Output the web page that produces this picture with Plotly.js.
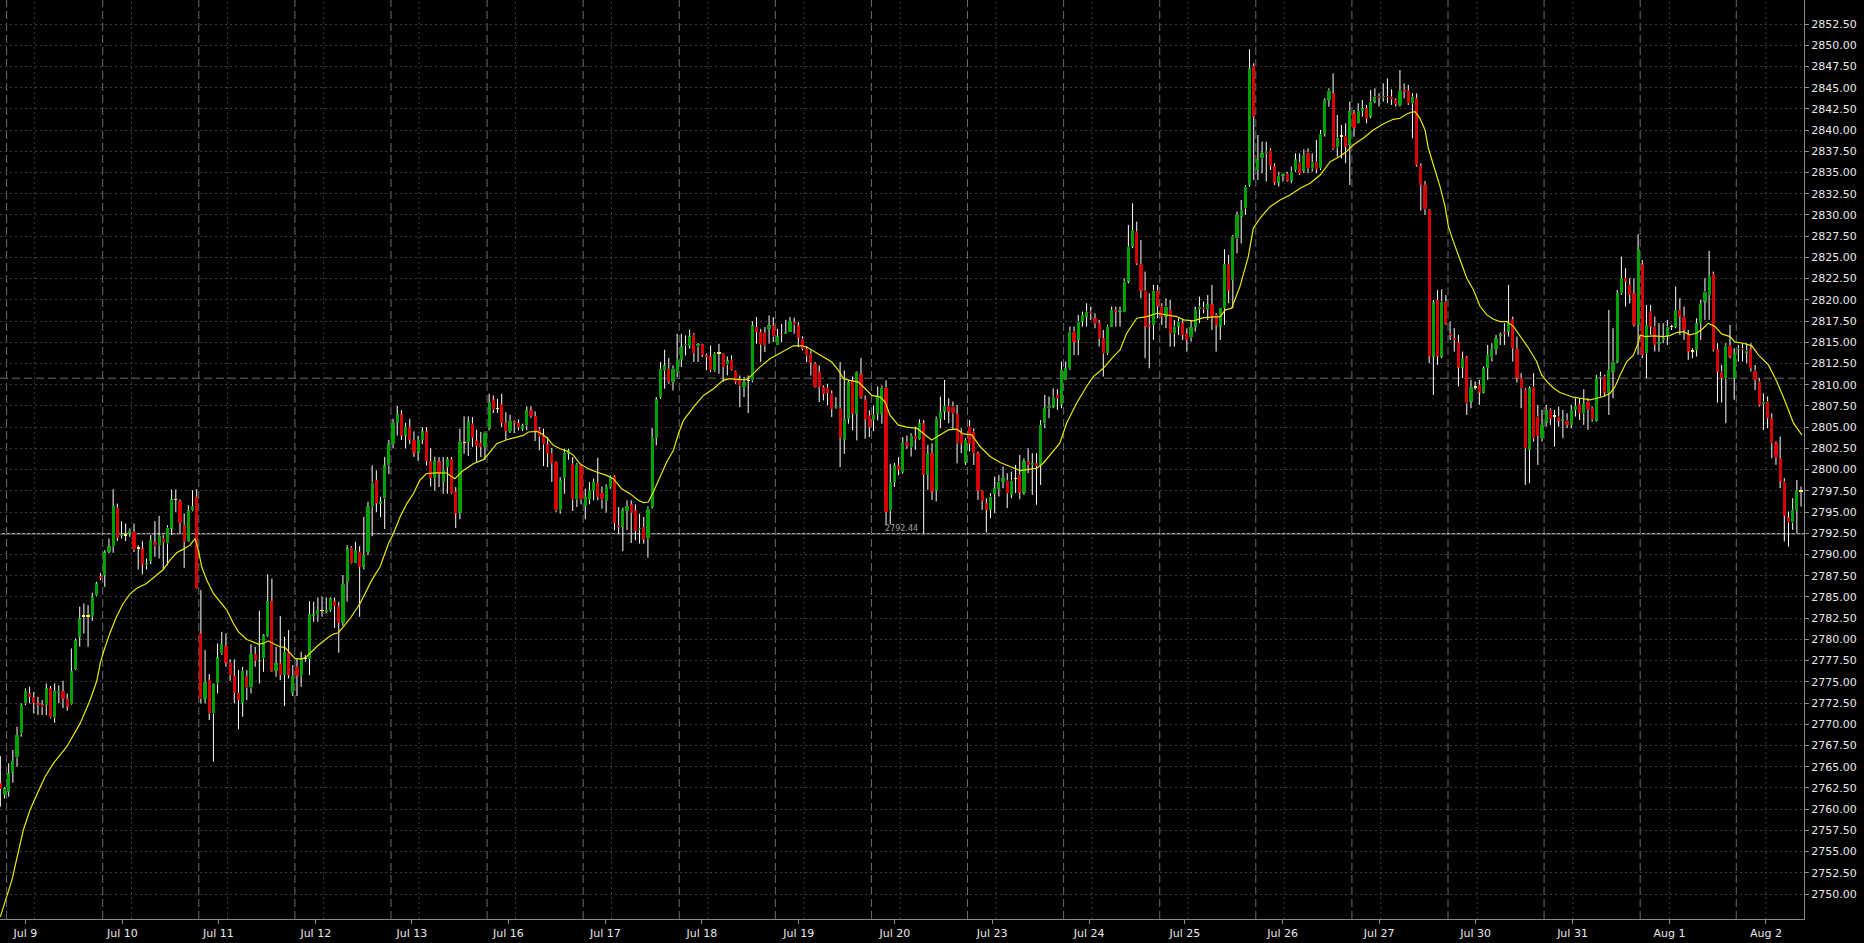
<!DOCTYPE html>
<html><head><meta charset="utf-8">
<script src="https://cdn.plot.ly/plotly-3.0.1.min.js"></script>
<style>html,body{margin:0;padding:0;background:#000;overflow:hidden}#chart{width:1864px;height:943px}</style>
</head><body><div id="chart"></div>
<script>
// ---- hourly bars (one per hour, 23 per session) ----
const opens = [
2763.04,2761.66,2762.05,2764.29,2766.10,2768.92,2772.46,2773.63,2773.16,2772.46,
2772.34,2772.26,2774.22,2770.81,2773.71,2773.91,2772.97,2772.34,2776.50,2780.30,
2782.66,2782.66,2782.74,2785.21,2787.45,2787.57,2790.31,2790.98,2795.50,2792.20,
2792.20,2792.47,2792.67,2790.67,2790.71,2788.74,2789.25,2791.45,2791.10,2791.88,
2791.30,2793.06,2796.40,2796.28,2793.45,2791.57,2795.22,2796.79,2780.70,2773.00,
2775.20,2771.28,2774.81,2778.34,2779.21,2777.24,2775.67,2773.71,2772.53,2775.67,
2774.34,2778.27,2777.36,2777.75,2780.42,2784.50,2776.30,2777.17,2775.79,2778.42,
2773.71,2776.77,2775.79,2777.64,2777.68,2782.78,2782.97,2783.33,2783.25,2783.45,
2784.50,2783.92,2781.95,2786.78,2790.79,2789.02,2790.31,2788.55,2790.31,2795.69,
2798.75,2796.00,2796.60,2800.50,2803.00,2805.50,2806.50,2804.00,2805.00,2803.50,
2802.00,2803.50,2804.50,2801.00,2799.00,2800.97,2798.54,2800.30,2801.21,2797.44,
2794.92,2803.13,2803.25,2805.41,2803.44,2803.13,2802.66,2804.82,2808.27,2807.13,
2807.68,2805.49,2804.54,2805.68,2805.49,2804.82,2805.21,2806.98,2806.31,2804.70,
2803.92,2802.97,2801.87,2800.89,2795.20,2799.01,2801.87,2800.70,2796.50,2800.50,
2795.71,2796.50,2797.48,2798.42,2797.24,2796.30,2797.95,2799.21,2793.44,2793.24,
2795.12,2795.91,2795.20,2792.97,2793.24,2791.91,2795.59,2803.72,2808.55,2811.69,
2811.88,2810.31,2811.49,2812.94,2814.63,2814.55,2815.89,2814.51,2814.75,2813.45,
2813.34,2811.69,2813.65,2813.65,2812.39,2812.94,2811.61,2810.59,2809.72,2810.43,
2810.51,2816.79,2816.20,2816.12,2816.59,2816.99,2814.63,2815.93,2816.00,2816.20,
2817.38,2816.99,2815.42,2814.24,2813.65,2812.47,2811.49,2809.72,2809.65,2808.94,
2807.37,2807.17,2803.52,2805.99,2810.51,2806.58,2811.22,2808.27,2806.39,2805.80,
2806.58,2806.58,2809.65,2795.20,2798.54,2800.50,2799.71,2803.17,2802.63,2803.97,
2803.58,2805.46,2799.38,2801.93,2797.53,2805.97,2806.84,2807.51,2807.43,2806.56,
2804.28,2800.83,2805.07,2804.48,2801.93,2797.53,2796.04,2795.26,2797.14,2797.73,
2798.59,2798.71,2797.02,2798.91,2799.38,2797.30,2800.96,2800.55,2800.75,2800.55,
2805.46,2807.23,2807.43,2808.80,2807.62,2810.56,2811.94,2816.26,2815.28,2817.44,
2818.03,2818.62,2817.83,2817.25,2815.48,2813.71,2816.85,2818.81,2818.62,2818.62,
2822.15,2826.27,2828.04,2824.23,2821.09,2817.05,2817.05,2821.09,2819.21,2818.03,
2818.81,2816.07,2816.85,2817.25,2816.07,2815.58,2816.85,2818.89,2819.09,2818.89,
2819.48,2818.22,2816.85,2819.01,2824.23,2822.35,2827.25,2829.80,2830.79,2833.54,
2847.55,2835.30,2836.68,2837.27,2837.58,2835.77,2833.81,2834.63,2834.83,2834.04,
2835.30,2836.17,2835.23,2837.34,2835.50,2836.29,2835.50,2839.54,2843.55,2844.33,
2837.97,2839.23,2839.31,2838.25,2841.98,2840.88,2842.26,2842.57,2841.59,2843.35,
2844.02,2843.86,2844.02,2843.94,2843.55,2842.96,2844.73,2844.65,2843.16,2843.75,
2835.78,2833.54,2830.59,2813.32,2819.99,2813.32,2819.80,2815.99,2815.48,2815.01,
2812.02,2813.24,2808.02,2809.67,2809.98,2809.08,2811.95,2813.24,2814.22,2815.79,
2816.19,2816.26,2817.72,2814.22,2810.77,2809.39,2802.33,2809.79,2806.25,2803.70,
2805.54,2807.04,2806.25,2806.25,2805.78,2805.78,2805.27,2807.04,2807.74,2806.64,
2808.02,2807.23,2805.78,2810.77,2810.96,2809.00,2811.55,2812.73,2820.78,2822.55,
2821.76,2820.78,2817.05,2824.19,2813.71,2818.62,2816.85,2814.81,2815.28,2815.79,
2816.77,2816.85,2818.82,2818.03,2815.87,2813.91,2814.10,2817.25,2819.80,2820.58,
2823.06,2814.18,2811.55,2810.77,2814.61,2810.77,2814.10,2814.26,2813.79,2814.18,
2811.67,2810.37,2807.74,2808.02,2806.06,2803.11,2801.34,2798.60,2794.36,2793.77,
2795.26,2797.42];
const highs = [
2766.25,2762.60,2765.39,2766.96,2769.71,2772.46,2774.22,2774.42,2773.80,2773.24,
2772.85,2774.81,2774.50,2774.81,2774.60,2775.12,2773.63,2778.93,2780.11,2783.84,
2784.23,2784.03,2785.49,2786.78,2787.80,2790.51,2791.88,2797.69,2796.00,2793.92,
2793.65,2793.06,2793.65,2791.10,2791.61,2789.53,2792.28,2793.92,2794.55,2792.28,
2793.45,2797.65,2797.65,2796.48,2794.83,2795.81,2797.58,2797.69,2785.80,2778.74,
2775.91,2774.81,2779.52,2780.89,2780.70,2777.64,2777.64,2776.38,2776.77,2776.38,
2779.44,2779.13,2783.37,2780.62,2787.65,2787.17,2779.13,2782.74,2780.30,2781.09,
2776.97,2777.75,2778.54,2778.15,2784.50,2784.43,2784.94,2785.02,2784.94,2784.94,
2784.94,2784.43,2787.57,2791.10,2790.98,2791.49,2790.98,2794.44,2796.20,2800.50,
2799.90,2796.80,2801.50,2803.50,2806.00,2807.50,2807.00,2805.50,2806.00,2804.50,
2804.00,2805.00,2805.00,2802.50,2801.50,2801.48,2801.48,2801.48,2801.48,2797.95,
2804.82,2806.27,2806.27,2806.19,2804.70,2804.43,2804.50,2808.94,2808.74,2808.35,
2808.94,2806.78,2806.47,2805.80,2805.92,2805.41,2807.45,2807.45,2806.86,2805.01,
2804.82,2803.84,2802.58,2800.97,2799.13,2802.46,2802.46,2801.48,2800.78,2800.70,
2797.75,2798.54,2798.93,2801.40,2798.03,2798.26,2799.32,2799.32,2795.59,2795.52,
2796.38,2796.38,2795.91,2794.81,2794.42,2795.67,2804.90,2808.55,2812.67,2814.12,
2813.18,2812.28,2816.00,2816.00,2815.81,2816.48,2816.08,2814.91,2814.83,2813.65,
2814.63,2813.85,2814.83,2813.73,2813.34,2813.45,2811.69,2811.10,2810.90,2811.10,
2817.50,2817.97,2816.59,2816.79,2818.16,2817.97,2816.59,2817.18,2817.65,2817.97,
2817.89,2817.38,2815.69,2814.51,2814.04,2812.67,2812.28,2809.92,2810.12,2809.33,
2808.55,2812.67,2811.69,2810.51,2810.98,2811.57,2813.18,2808.74,2806.98,2807.57,
2809.80,2809.92,2810.51,2800.70,2800.78,2801.48,2803.84,2804.03,2804.28,2805.07,
2805.93,2805.85,2802.91,2803.11,2806.25,2808.60,2810.56,2808.41,2808.02,2807.62,
2804.88,2803.70,2805.85,2804.88,2802.12,2797.61,2796.63,2797.22,2799.18,2799.38,
2800.36,2799.57,2799.77,2800.55,2801.73,2801.34,2802.52,2801.93,2801.93,2805.85,
2808.80,2808.60,2809.58,2809.46,2812.72,2812.72,2816.85,2816.85,2818.22,2818.62,
2819.60,2819.21,2818.42,2817.64,2816.46,2817.05,2819.21,2819.21,2819.21,2822.54,
2828.83,2831.38,2829.22,2827.06,2823.33,2820.77,2821.75,2821.75,2819.60,2820.18,
2819.99,2817.64,2817.83,2817.64,2816.65,2817.64,2819.21,2820.38,2819.79,2820.57,
2821.75,2818.42,2819.01,2825.96,2825.29,2827.64,2830.40,2831.77,2833.54,2849.52,
2847.87,2839.42,2838.64,2838.64,2837.85,2836.09,2835.10,2834.91,2835.10,2835.69,
2837.27,2837.27,2837.73,2837.85,2837.27,2838.84,2840.01,2843.74,2844.92,2846.69,
2841.78,2840.60,2840.80,2843.35,2842.37,2843.16,2843.55,2842.96,2844.73,2844.92,
2844.34,2845.51,2846.10,2844.81,2843.75,2847.08,2845.51,2845.32,2844.34,2844.34,
2836.09,2834.01,2830.67,2819.99,2821.17,2821.25,2820.58,2817.44,2816.66,2815.87,
2813.91,2813.40,2810.57,2810.37,2810.57,2812.14,2814.69,2814.89,2815.87,2816.15,
2817.25,2821.76,2818.03,2815.67,2811.36,2809.59,2809.79,2811.36,2807.63,2807.04,
2807.63,2807.23,2807.04,2807.43,2807.04,2806.64,2807.63,2808.41,2808.41,2809.47,
2808.41,2807.43,2811.16,2811.55,2811.16,2818.82,2816.66,2821.17,2825.10,2823.72,
2822.55,2822.55,2827.73,2824.70,2819.40,2819.40,2818.03,2817.25,2817.25,2817.64,
2817.05,2821.57,2820.19,2819.21,2816.46,2814.30,2817.83,2819.99,2822.55,2825.77,
2823.33,2814.89,2812.34,2814.89,2817.05,2814.30,2814.69,2814.89,2814.89,2814.89,
2812.34,2810.77,2808.99,2808.61,2806.64,2803.31,2803.90,2798.99,2795.06,2796.63,
2798.79,2798.01];
const lows = [
2760.29,2761.27,2761.47,2763.11,2765.00,2768.53,2772.26,2772.46,2771.28,2771.08,
2771.08,2771.08,2770.69,2770.18,2772.46,2771.91,2771.59,2772.26,2776.38,2779.13,
2780.70,2779.13,2782.19,2785.09,2786.98,2786.19,2790.12,2790.20,2791.57,2791.88,
2791.57,2792.08,2790.31,2788.23,2787.65,2788.23,2788.86,2789.73,2789.53,2788.23,
2788.74,2792.28,2795.02,2792.47,2788.43,2791.49,2795.10,2785.92,2772.46,2772.46,
2770.49,2765.59,2773.63,2778.15,2776.77,2775.12,2772.46,2769.40,2770.89,2772.85,
2773.63,2776.77,2774.81,2776.18,2780.30,2776.18,2775.60,2775.20,2772.14,2775.40,
2773.32,2773.32,2774.42,2777.36,2775.79,2782.07,2782.07,2782.66,2783.05,2783.25,
2781.36,2778.42,2781.56,2784.43,2788.86,2789.00,2782.66,2788.23,2789.92,2792.15,
2795.00,2794.40,2793.00,2799.50,2802.50,2804.00,2803.50,2802.50,2803.00,2801.50,
2801.00,2803.00,2800.50,2798.00,2797.50,2797.95,2797.16,2797.16,2797.16,2793.12,
2794.14,2801.87,2801.60,2802.66,2800.89,2801.48,2801.17,2804.62,2806.66,2806.66,
2805.01,2803.44,2804.31,2804.31,2804.62,2804.54,2804.62,2806.11,2803.37,2802.27,
2800.42,2800.30,2798.54,2795.01,2794.81,2797.16,2801.17,2795.12,2795.59,2795.91,
2794.14,2795.91,2796.38,2796.38,2795.40,2794.93,2797.75,2792.85,2792.45,2790.41,
2792.85,2791.36,2791.67,2791.28,2791.28,2789.63,2795.40,2802.86,2808.35,2809.53,
2810.12,2809.33,2810.90,2812.08,2813.45,2814.24,2812.67,2812.67,2813.26,2811.69,
2811.49,2811.49,2811.29,2810.31,2811.10,2811.69,2810.12,2807.37,2808.55,2806.66,
2810.31,2814.83,2812.67,2813.85,2814.83,2815.02,2814.63,2815.02,2816.00,2816.20,
2816.00,2814.43,2814.04,2812.67,2811.10,2809.65,2807.96,2808.15,2807.57,2806.19,
2807.17,2800.30,2801.87,2805.41,2804.62,2803.44,2808.35,2803.64,2803.84,2804.54,
2805.80,2805.41,2793.44,2793.56,2797.95,2799.32,2799.52,2802.46,2801.54,2802.32,
2803.50,2792.44,2797.61,2796.43,2796.24,2804.88,2805.85,2805.46,2804.68,2800.75,
2801.93,2800.55,2802.12,2800.55,2796.43,2795.26,2792.58,2794.28,2794.87,2796.83,
2797.81,2795.46,2796.63,2797.22,2796.51,2797.02,2799.57,2797.02,2795.85,2798.20,
2804.88,2806.05,2807.23,2807.03,2807.23,2810.56,2811.74,2813.51,2813.51,2816.85,
2816.85,2817.64,2816.65,2814.50,2810.96,2813.51,2816.85,2816.85,2816.85,2818.62,
2821.95,2826.08,2824.11,2820.18,2813.12,2811.94,2815.28,2817.83,2817.05,2816.65,
2814.50,2814.50,2815.87,2815.28,2813.90,2815.08,2816.26,2817.25,2818.42,2817.64,
2816.46,2813.90,2815.28,2817.05,2819.60,2819.01,2825.49,2826.66,2830.00,2833.34,
2834.13,2834.13,2834.91,2833.93,2835.30,2833.54,2833.34,2833.93,2833.93,2833.73,
2835.10,2834.71,2834.91,2834.91,2835.10,2834.91,2835.30,2839.23,2842.76,2837.65,
2836.87,2836.68,2836.09,2833.54,2839.23,2840.80,2841.59,2840.80,2841.39,2843.16,
2842.77,2843.35,2843.16,2842.96,2842.77,2842.77,2843.75,2842.96,2839.04,2835.70,
2830.52,2830.01,2812.53,2808.80,2812.34,2813.12,2817.05,2815.28,2813.91,2809.79,
2810.77,2806.45,2807.23,2809.39,2807.63,2809.00,2810.57,2812.73,2813.52,2814.69,
2814.69,2815.67,2812.73,2810.26,2807.23,2798.20,2798.40,2803.31,2800.56,2803.31,
2805.07,2805.27,2802.72,2805.07,2803.70,2804.88,2804.88,2806.25,2805.86,2805.27,
2804.68,2805.66,2805.66,2808.61,2808.61,2806.45,2808.41,2812.53,2820.58,2819.21,
2819.60,2816.85,2813.52,2813.12,2810.77,2815.87,2813.91,2813.91,2814.89,2814.69,
2816.46,2816.66,2815.87,2815.28,2812.93,2813.12,2813.32,2815.28,2817.64,2817.64,
2813.91,2807.90,2807.90,2805.47,2813.12,2808.22,2812.73,2812.73,2812.53,2811.55,
2809.39,2807.43,2804.68,2804.88,2801.34,2800.56,2797.81,2791.53,2790.94,2792.90,
2792.51,2795.65];
const closes = [
2762.37,2762.45,2764.21,2765.66,2768.73,2772.26,2773.95,2773.24,2772.53,2772.26,
2772.10,2774.22,2770.81,2773.91,2773.91,2773.00,2772.06,2776.26,2779.91,2782.46,
2782.66,2782.66,2784.98,2786.59,2787.25,2790.24,2790.98,2795.69,2791.96,2792.35,
2792.20,2792.75,2790.59,2790.67,2788.82,2788.94,2791.69,2791.06,2792.20,2791.45,
2793.18,2796.48,2796.40,2793.73,2791.49,2795.22,2795.69,2786.00,2773.04,2774.97,
2771.28,2774.73,2777.87,2779.44,2777.24,2775.79,2773.71,2772.85,2776.30,2774.34,
2778.27,2777.48,2777.44,2780.50,2784.50,2776.30,2777.17,2775.79,2778.54,2775.79,
2775.71,2775.71,2777.75,2777.64,2782.97,2782.94,2783.45,2783.33,2783.45,2784.82,
2783.92,2781.95,2786.51,2790.71,2788.94,2790.51,2788.55,2789.92,2795.69,2798.48,
2796.00,2796.28,2800.50,2803.00,2805.50,2806.50,2804.00,2805.00,2803.50,2802.00,
2803.50,2804.50,2801.00,2799.00,2801.00,2799.51,2799.92,2801.21,2797.24,2794.81,
2803.25,2803.13,2805.68,2803.76,2802.78,2802.66,2804.35,2807.96,2807.10,2807.13,
2805.49,2804.54,2805.72,2805.49,2805.01,2805.21,2806.98,2806.31,2804.54,2803.92,
2802.97,2801.87,2800.77,2795.20,2798.73,2801.99,2802.27,2796.50,2800.58,2796.50,
2796.77,2797.56,2798.54,2796.77,2796.50,2797.95,2799.01,2793.71,2793.24,2795.20,
2795.71,2794.93,2792.77,2793.12,2791.75,2795.40,2803.72,2808.27,2811.88,2812.28,
2810.31,2811.88,2812.94,2814.51,2814.83,2815.69,2813.73,2814.75,2813.53,2813.26,
2811.69,2813.65,2813.65,2812.08,2812.86,2811.77,2810.31,2809.92,2810.31,2810.43,
2816.99,2816.20,2814.75,2814.63,2816.99,2815.69,2815.69,2815.85,2816.20,2817.50,
2817.10,2815.53,2814.24,2813.45,2812.55,2809.72,2809.72,2808.94,2809.02,2807.13,
2807.49,2803.76,2805.92,2810.31,2806.58,2811.49,2808.55,2805.88,2805.01,2806.47,
2808.74,2809.65,2795.01,2798.54,2800.50,2799.99,2803.13,2802.78,2803.97,2803.58,
2805.46,2799.38,2801.93,2797.42,2805.97,2806.76,2807.51,2806.84,2806.64,2803.11,
2803.03,2803.50,2803.03,2801.93,2797.53,2796.32,2795.26,2796.83,2797.81,2798.59,
2798.98,2797.22,2798.71,2798.91,2797.30,2800.96,2800.55,2800.75,2800.44,2805.26,
2807.23,2807.51,2808.60,2808.41,2811.74,2811.94,2816.26,2815.08,2817.44,2818.22,
2818.62,2818.42,2817.25,2815.48,2813.71,2816.85,2818.81,2818.62,2818.81,2822.15,
2826.27,2828.24,2824.31,2821.09,2816.85,2816.85,2821.09,2819.21,2818.03,2819.21,
2816.07,2816.85,2817.44,2815.87,2815.28,2816.77,2818.81,2819.21,2818.89,2819.48,
2818.03,2817.05,2819.01,2824.23,2821.09,2827.45,2830.00,2830.59,2833.34,2847.28,
2841.58,2836.56,2837.27,2837.46,2835.77,2833.81,2834.63,2834.83,2834.04,2835.10,
2836.56,2834.91,2837.07,2835.50,2836.17,2835.38,2839.54,2843.55,2844.65,2837.85,
2839.11,2839.23,2838.05,2842.26,2840.29,2842.26,2842.57,2841.31,2843.35,2843.94,
2843.86,2844.02,2843.86,2843.63,2843.08,2844.61,2844.53,2843.16,2843.94,2835.89,
2833.54,2830.67,2813.32,2819.72,2813.32,2819.80,2817.17,2815.79,2815.28,2812.02,
2813.04,2807.82,2809.71,2809.67,2809.08,2811.95,2813.52,2814.22,2815.48,2815.95,
2816.03,2817.25,2814.30,2810.77,2809.59,2802.52,2809.59,2803.70,2803.98,2805.27,
2807.04,2805.98,2806.25,2805.78,2805.94,2805.27,2807.04,2807.51,2806.64,2807.82,
2807.12,2805.94,2810.77,2810.96,2809.08,2811.75,2812.73,2820.78,2822.55,2822.15,
2820.58,2817.05,2825.96,2813.52,2817.05,2816.85,2814.69,2815.01,2815.48,2816.85,
2816.77,2818.82,2818.03,2816.46,2813.91,2813.91,2817.25,2819.52,2820.98,2822.82,
2814.10,2811.55,2810.77,2814.61,2813.32,2813.71,2814.26,2814.10,2814.03,2811.95,
2810.57,2807.63,2808.02,2806.06,2803.11,2801.46,2798.60,2794.55,2793.77,2795.26,
2797.50,2797.42];

const maBars = [0,2.8,5.5,7.1,8.7,10.7,12.7,15.9,19.1,21.5,23.1,23.9,24.7,26.2,27.8,29.4,31,32.6,35,37.4,39,40.6,42.2,43.8,45.4,46.6,47.4,48.2,49.4,51,52.6,54.2,55.8,57,59,60.6,61.8,63,64.1,65.3,66.9,68.1,69.3,70.5,72.1,73.3,75.7,78.1,79.7,80.9,82.1,83.7,86.1,87.7,88.9,90.9,92.9,94.1,95.7,97.3,98.9,100.4,102,104.4,106.8,108.8,110.8,113.2,115.6,117.2,118.8,121.2,123.6,125.2,126.4,128.4,129.6,130.8,132.4,134,135.6,137.2,138.7,140.7,142.7,145.1,146.7,148.7,150.7,152.7,153.9,155.1,156.3,157.9,159.5,161.1,162.3,163.5,165.9,168.3,170.7,173,174.6,176.2,178.6,179.8,181.8,184.2,186.6,188.2,189.8,191.8,193,195,197,199,200.6,201.8,203.4,205.4,207,208.6,210.6,211.8,212.9,214.9,216.9,219.3,220.9,222.9,224.9,226.9,228.9,230.5,232.5,234.5,236.9,239.3,241.7,244.1,246.5,248.1,249.6,252,253.6,255.2,257.6,260,261.6,264,266.4,268,269.6,272,274.4,276.8,279.2,281.6,283.2,285.6,288,290.4,292,293.2,294.7,296.7,298.7,299.9,301.5,303.9,306.3,308.7,311.1,313.5,315.9,318.3,320.6,322.2,323.8,326.2,328.6,331,333.4,335,336.6,337.8,338.6,339.8,341,341.8,343,344.6,345.8,346.6,347.8,349.4,351,352.6,354.2,355.8,357.4,359,360.6,362.2,363.8,365.8,367.7,368.9,370.2,371.8,373.3,374.9,376.5,378.1,380.5,382.1,383.7,385.3,386.5,387.7,389.3,390.9,392,392.5,393.7,395.7,398.1,399.6,401.2,402.8,404.4,406,407.6,408.8,410.4,412,414,415.2,417.2,419.2,420.8,423.2,425.2,427.2,429.2,431.2];
const maValues = [2747.3,2751.7,2757.54,2759.9,2761.66,2763.82,2765.39,2767.35,2770.1,2772.85,2775.12,2777.17,2778.54,2780.7,2782.66,2784.23,2785.33,2786.0,2786.58,2787.56,2788.23,2789.33,2790.2,2790.63,2791.1,2791.88,2790.51,2788.55,2786.98,2785.41,2784.43,2783.45,2781.87,2780.89,2779.99,2779.72,2779.44,2779.52,2779.83,2779.52,2779.13,2779.05,2778.42,2777.75,2777.68,2777.95,2779.13,2780.11,2780.62,2780.78,2781.48,2782.46,2784.23,2785.8,2786.98,2788.55,2791.3,2792.47,2794.44,2796.0,2797.18,2798.75,2799.54,2799.62,2799.6,2798.93,2799.91,2800.7,2801.17,2802.07,2803.05,2803.52,2803.84,2804.03,2804.43,2804.5,2804.23,2803.76,2802.86,2802.46,2802.19,2801.68,2800.7,2800.11,2799.72,2799.32,2798.93,2797.75,2797.17,2796.38,2796.11,2796.18,2797.36,2799.13,2800.89,2802.27,2804.23,2805.8,2807.37,2808.74,2809.53,2810.51,2810.71,2810.63,2810.59,2811.1,2812.08,2813.06,2813.73,2814.12,2814.59,2814.59,2814.44,2813.85,2813.26,2812.67,2811.69,2810.71,2810.51,2810.31,2809.53,2808.74,2808.55,2807.96,2806.45,2805.27,2805.0,2804.88,2804.29,2803.5,2804.09,2804.68,2804.76,2804.21,2804.09,2802.72,2801.54,2800.83,2800.36,2799.89,2800.05,2800.16,2800.75,2802.12,2803.11,2805.46,2807.82,2809.79,2810.96,2811.94,2813.32,2814.1,2816.07,2817.83,2818.03,2818.42,2818.22,2818.03,2817.64,2817.52,2817.91,2818.03,2818.03,2818.82,2819.01,2821.56,2825.1,2828.43,2829.61,2830.98,2831.77,2832.36,2833.14,2833.73,2834.71,2836.28,2836.88,2837.47,2838.25,2839.04,2840.02,2840.72,2841.27,2841.39,2841.9,2842.1,2842.18,2841.39,2840.02,2837.86,2835.89,2833.34,2830.99,2828.63,2826.86,2824.7,2822.55,2821.17,2819.21,2818.23,2817.72,2817.44,2817.44,2816.85,2815.67,2814.3,2812.73,2811.16,2810.37,2809.59,2809.08,2808.8,2808.53,2808.41,2808.22,2808.41,2808.61,2809.0,2809.79,2811.16,2812.73,2813.52,2814.89,2815.87,2815.67,2815.75,2815.67,2815.79,2816.15,2816.26,2815.87,2816.07,2816.66,2817.25,2816.85,2815.99,2815.67,2815.01,2814.89,2814.58,2813.52,2812.34,2810.37,2808.02,2805.47,2804.09];

// ---- axis labels and session structure ----
const dayLabels = ['Jul 9','Jul 10','Jul 11','Jul 12','Jul 13','Jul 16','Jul 17','Jul 18','Jul 19','Jul 20','Jul 23','Jul 24','Jul 25','Jul 26','Jul 27','Jul 30','Jul 31','Aug 1','Aug 2'];
const labelBars = [6.0,29.2,52.2,75.5,98.5,121.6,144.8,167.9,191.1,214.1,237.4,260.6,283.5,306.9,330.0,353.1,376.3,399.5,422.6];
const gridBars = [8.15,31.4,54.4,77.4,100.2,123.3,146.3,169.4,192.4,215.4,238.3,261.3,284.3,307.3,330.4,353.5,376.4,399.5,422.6];
const sessionStarts = [2,25,48,71,94,117,140,163,186,209,232,255,278,301,324,347,370,393,416];
const priceTicks = [2750,2752.5,2755,2757.5,2760,2762.5,2765,2767.5,2770,2772.5,2775,2777.5,2780,2782.5,2785,2787.5,2790,2792.5,2795,2797.5,2800,2802.5,2805,2807.5,2810,2812.5,2815,2817.5,2820,2822.5,2825,2827.5,2830,2832.5,2835,2837.5,2840,2842.5,2845,2847.5,2850,2852.5];
const markedLow = 2792.44;
const markedLowBar = 215.8;
const dashedLevel = 2810.77;

// ---- build traces ----
const n = opens.length;
const idx = opens.map((_, i) => i);
const bodyTop = idx.map(i => Math.max(opens[i], closes[i]));
const bodyBase = idx.map(i => Math.min(opens[i], closes[i]));
// wicks: upper (high -> body top) and lower (body bottom -> low), never crossing the body
const wx = [], wy = [];
for (let i = 0; i < n; i++) {
  if (highs[i] > bodyTop[i]) { wx.push(i, i, null); wy.push(bodyTop[i], highs[i], null); }
  if (lows[i] < bodyBase[i]) { wx.push(i, i, null); wy.push(lows[i], bodyBase[i], null); }
}
const bodyLen = idx.map(i => Math.max(bodyTop[i] - bodyBase[i], 0.16));
const bodyColor = idx.map(i => closes[i] > opens[i] ? '#00a000' : (closes[i] < opens[i] ? '#d80000' : '#ffff00'));

const traces = [
  {type:'bar', x:idx, base:bodyBase, y:bodyLen, width:0.76, marker:{color:bodyColor, line:{width:0}}, hoverinfo:'skip'},
  {type:'scatter', mode:'lines', x:wx, y:wy, line:{color:'#ffffff', width:1}, hoverinfo:'skip', connectgaps:false},
  {type:'scatter', mode:'lines', x:maBars, y:maValues, line:{color:'#e8e800', width:1.2}, hoverinfo:'skip'}
];

const shapes = [];
gridBars.forEach(b => shapes.push({type:'line', xref:'x', yref:'paper', x0:b, x1:b, y0:0, y1:1, layer:'below', line:{color:'#3c3c3c', width:1, dash:'2px,3px'}}));
sessionStarts.forEach(s => shapes.push({type:'line', xref:'x', yref:'paper', x0:s-0.5, x1:s-0.5, y0:0, y1:1, layer:'below', line:{color:'#6a6a6a', width:1, dash:'8px,4px'}}));
shapes.push({type:'line', xref:'paper', yref:'y', x0:0, x1:1, y0:dashedLevel, y1:dashedLevel, layer:'below', line:{color:'#6a6a6a', width:1, dash:'8px,4px'}});
shapes.push({type:'line', xref:'paper', yref:'y', x0:0, x1:1, y0:markedLow, y1:markedLow, layer:'below', line:{color:'#e0e0e0', width:1}});

const font = {family:'DejaVu Sans, Verdana, sans-serif', size:11, color:'#e8e8e8'};
const layout = {
  width:1864, height:943,
  paper_bgcolor:'#000000', plot_bgcolor:'#000000',
  margin:{l:0, r:60, t:0, b:24, pad:0},
  showlegend:false, bargap:0, hovermode:false,
  font: font,
  xaxis:{
    range:[-0.08, 431.71], fixedrange:true, zeroline:false,
    showgrid:false, showline:true, linecolor:'#8a8a8a', linewidth:1, mirror:true,
    tickmode:'array', tickvals:labelBars, ticktext:dayLabels,
    ticks:'outside', ticklen:4, tickcolor:'#8a8a8a', tickfont:font
  },
  yaxis:{
    side:'right', range:[2747.055, 2855.328], fixedrange:true, zeroline:false,
    tickmode:'array', tickvals:priceTicks, ticktext:priceTicks.map(v => v.toFixed(2)),
    showgrid:true, gridcolor:'#3c3c3c', griddash:'2px,3px', gridwidth:1,
    showline:true, linecolor:'#8a8a8a', linewidth:1, mirror:true,
    ticks:'outside', ticklen:4, tickcolor:'#8a8a8a', tickfont:font
  },
  shapes: shapes,
  annotations:[{x:markedLowBar, y:markedLow, xref:'x', yref:'y', text:markedLow.toFixed(2), showarrow:false, xanchor:'center', yanchor:'bottom', yshift:-1, font:{family:'DejaVu Sans, sans-serif', size:8, color:'#a0a0a0'}}]
};
Plotly.newPlot('chart', traces, layout, {staticPlot:true, displayModeBar:false});
</script>
</body></html>
